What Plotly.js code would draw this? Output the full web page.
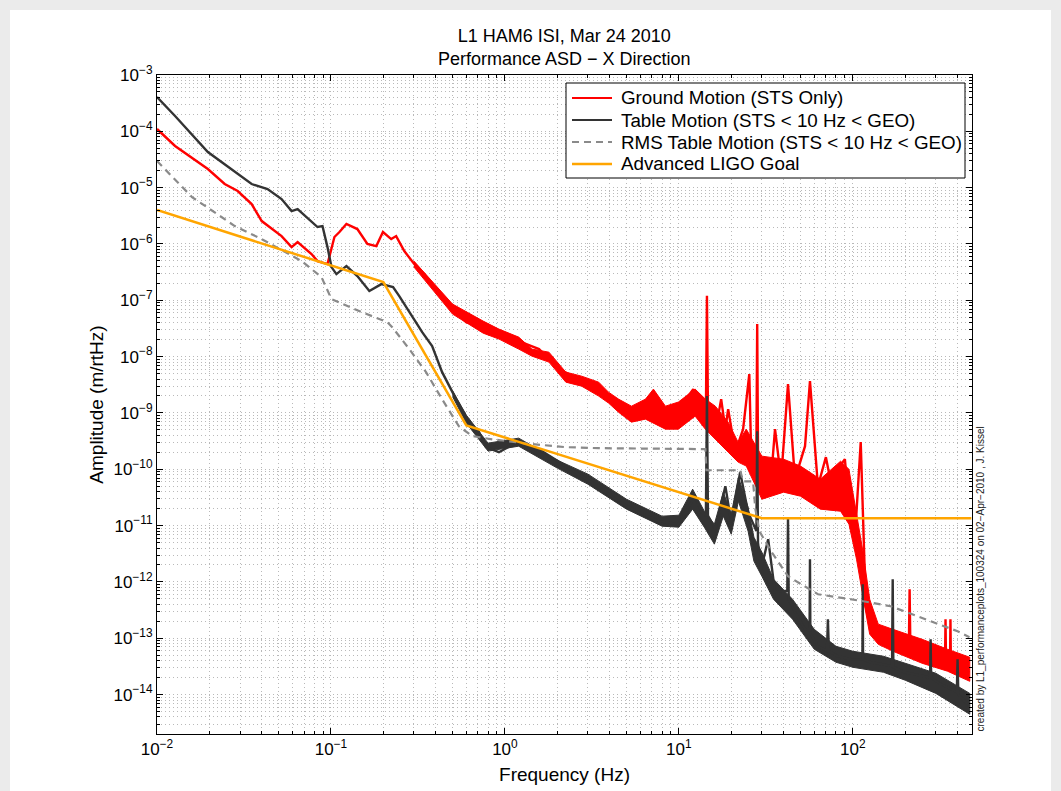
<!DOCTYPE html>
<html><head><meta charset="utf-8">
<script src="https://cdn.plot.ly/plotly-3.0.1.min.js"></script>
<style>
html,body{margin:0;padding:0;background:#ebebeb;width:1061px;height:791px;overflow:hidden}
#sheet{position:absolute;left:10px;top:10px;width:1041px;height:781px;background:#fff}
#chart{position:absolute;left:0;top:0;width:1061px;height:791px}
</style></head><body><div id="sheet"></div><div id="chart"></div>
<script>
// ---------- data (frequency in Hz, amplitude in m/rtHz) ----------
const redFreq = [0.01,0.0127,0.0196,0.0245,0.0291,0.035,0.04,0.052,0.0594,0.0643,0.0773,0.0837,0.0955,0.1047,0.1119,0.1227,0.1418,0.162,0.1823,0.199,0.222,0.237,0.264,0.301,0.3435,0.408,0.49,0.598,0.738,0.924,1.2,1.57,2.04,2.66,3.46,4.5,5.34,6.43,7.14,8.37,9.93,12.1,13.5,14.3,14.5,14.7,16.2,17.5,18.5,19.2,21.1,23.4,25.4,26,27.9,28.2,28.5,29.7,33.4,35.7,38.7,42.4,46.5,53.1,56.7,63,70,78.8,84.2,90,93.6,102.7,111,118.7,126.8,144.7,174,210,212,214,259,307,339,341,343,362,364,366,400,468];
const redAmp = [1.1e-4,5.5e-5,2.14e-5,1.16e-5,8.7e-6,5.1e-6,2.55e-6,1.38e-6,8.8e-7,1.08e-6,6.62e-7,4.97e-7,4.4e-7,1.33e-6,1.63e-6,2.26e-6,1.84e-6,1.0e-6,9.18e-7,1.63e-6,1.22e-6,1.38e-6,7.48e-7,4.4e-7,2.92e-7,1.4e-7,7.57e-8,4.1e-8,3.48e-8,2.84e-8,1.88e-8,1.36e-8,6.0e-9,3.99e-9,2.65e-9,1.32e-9,1.03e-9,1.32e-9,2.34e-9,6.87e-10,1.17e-9,2.65e-9,1.03e-9,1.0e-9,1.2e-7,9e-10,4.56e-10,1.76e-9,5.15e-10,1.17e-9,2.01e-10,5.15e-10,4.89e-9,2.28e-10,2.5e-10,3.78e-8,2.0e-10,1.14e-10,3.92e-11,5.15e-10,6.67e-11,3.25e-9,6.67e-11,2.57e-10,3.67e-9,5.0e-11,1.64e-10,2.6e-11,1.14e-10,1.51e-10,3.92e-11,5.73e-12,3.03e-10,3.7e-13,1.44e-13,1.085e-13,9.6e-14,8e-14,7.4e-13,8e-14,5.64e-14,4.24e-14,4.5e-14,2.18e-13,4.5e-14,4.0e-14,2.18e-13,4.0e-14,3.18e-14,2.49e-14];
const redBandFreq = [0.3,0.5,0.75,0.924,1.2,1.43,1.79,2.24,2.76,3.46,3.94,4.5,5.34,6.43,7.14,8.37,9.93,12.4,14.2,16.2,19.2,21.9,24.4,30,40,50,65,85,95,105,115,125,140,170,250,350,470];
const redBandHi = [4.97e-7,8.56e-8,4.27e-8,3.08e-8,2.22e-8,1.36e-8,1.2e-8,5.3e-9,4.5e-9,3.52e-9,2.34e-9,1.76e-9,1.32e-9,1.76e-9,2.65e-9,1.32e-9,1.56e-9,2.65e-9,1.76e-9,1.32e-9,6.87e-10,3.03e-10,5.15e-10,1.71e-10,1.51e-10,1.14e-10,6.67e-11,1.39e-10,1.0e-10,1.6e-11,3.1e-12,4.93e-13,1.78e-13,1.44e-13,9.6e-14,6.38e-14,4.6e-14];
const redBandLo = [3.89e-7,5.69e-8,2.61e-8,2.05e-8,1.36e-8,1.02e-8,7.99e-9,3.52e-9,2.99e-9,1.99e-9,1.5e-9,1.03e-9,6.87e-10,7.76e-10,6.5e-10,5.15e-10,5.15e-10,8.77e-10,5.15e-10,3.4e-10,2.01e-10,1.34e-10,1.14e-10,2.94e-11,3.92e-11,3.33e-11,1.96e-11,1.8e-11,1.06e-11,2.53e-12,4.93e-13,1.18e-13,7.8e-14,5.88e-14,3.6e-14,2.6e-14,1.72e-14];

const blackFreq = [0.01,0.0127,0.0196,0.0245,0.035,0.0432,0.052,0.0594,0.0643,0.0837,0.0894,0.0955,0.1007,0.1075,0.1227,0.1418,0.1662,0.1948,0.2275,0.247,0.2818,0.3345,0.3816,0.4355,0.524,0.622,0.71,0.778,0.924,1.2,1.63,2.24,3.15,4.5,5.86,7.63,9.93,12.4,13.5,14.3,14.5,14.7,16.2,18.5,20,22.5,25,27.9,28.2,28.5,29.7,32.6,35.7,42.0,42.4,42.8,46.5,53.1,56.4,56.7,57.0,63,71,71.9,72.8,82,97.4,113.5,114,114.5,126.8,168,169.5,171,198.6,278,280,282,307,396,400,404,468];
const blackAmp = [4.07e-4,1.87e-4,4.29e-5,2.63e-5,1.16e-5,9.45e-6,6.27e-6,3.84e-6,4.17e-6,2.0e-6,2.08e-6,8.8e-7,3.89e-7,2.92e-7,4.05e-7,2.69e-7,1.46e-7,1.94e-7,1.72e-7,1.19e-7,6.17e-8,2.72e-8,1.54e-8,5.3e-9,1.76e-9,6.87e-10,4.56e-10,2.47e-10,2.01e-10,3.16e-10,2.1e-10,1.14e-10,5.9e-11,2.71e-11,1.73e-11,1.2e-11,1.06e-11,3.33e-11,1.73e-11,1.5e-11,1.99e-9,1.5e-11,8.63e-12,5.0e-11,1.15e-11,8.88e-11,1.73e-11,8e-12,4.75e-10,5e-12,1.68e-12,5.73e-12,6.56e-13,7e-13,1.41e-11,5e-13,2.9e-13,1.44e-13,1.4e-13,2.53e-12,1.2e-13,7.2e-14,6e-14,2.18e-13,6e-14,4.79e-14,4.24e-14,4.2e-14,9.1e-13,4.2e-14,3.75e-14,3.2e-14,1.12e-12,3.1e-14,2.49e-14,2e-14,9.6e-14,2e-14,1.65e-14,1.1e-14,4.24e-14,1.0e-14,6.2e-15];
const blackBandFreq = [0.5,0.6,0.8,1.2,2,3,5,8,10,12,14,16,18,20,22,25,27,30,35,45,60,80,100,150,200,300,470];
const blackBandHi = [2.49e-9,9.14e-10,2.91e-10,3.57e-10,1.45e-10,8.2e-11,2.94e-11,1.47e-11,1.53e-11,4.43e-11,1.8e-11,1.06e-11,3.92e-11,1.6e-11,7.24e-11,2.12e-11,6.22e-12,3.37e-12,1.12e-12,4.93e-13,1.44e-13,7.2e-14,5.88e-14,4.79e-14,3.6e-14,2.39e-14,1.05e-14];
const blackBandLo = [1.95e-9,6.59e-10,2.1e-10,2.57e-10,1.05e-10,5.43e-11,1.96e-11,9.77e-12,9.37e-12,1.96e-11,9.37e-12,4.68e-12,1.47e-11,7.03e-12,2.71e-11,7.96e-12,2.33e-12,1.26e-12,4.93e-13,2.18e-13,6.38e-14,3.75e-14,3.05e-14,2.49e-14,1.8e-14,1.05e-14,4.47e-15];

const rmsFreq = [0.01,0.0159,0.028,0.04,0.0678,0.0882,0.1007,0.1496,0.211,0.225,0.282,0.352,0.435,0.544,0.647,0.844,1.43,2.24,3.46,14.2,14.4,22.5,23.4,26.7,27.5,29,33.9,42.4,63,117,165,259,400,468];
const rmsAmp = [2.97e-5,6.8e-6,2.08e-6,1.22e-6,4.97e-7,2.58e-7,1.05e-7,6.2e-8,4.1e-8,3.34e-8,1.36e-8,5.3e-9,1.76e-9,5.8e-10,3.9e-10,3.4e-10,2.8e-10,2.47e-10,2.37e-10,2.28e-10,9.6e-11,9.6e-11,6.1e-11,6.1e-11,2e-11,8e-12,3.5e-12,1.26e-12,6.05e-13,4.5e-13,3.7e-13,2.18e-13,1.33e-13,1.04e-13];

const goalFreq = [0.01,0.2,0.6,30,480];
const goalAmp = [4e-6,2.1e-7,6e-10,1.35e-11,1.35e-11];

const seriesNames = ['Ground Motion (STS Only)','Table Motion (STS < 10 Hz < GEO)','RMS Table Motion (STS < 10 Hz < GEO)','Advanced LIGO Goal'];
const xTickVals = [0.01,0.1,1,10,100];
const xTickText = ['10<sup>−2</sup>','10<sup>−1</sup>','10<sup>0</sup>','10<sup>1</sup>','10<sup>2</sup>'];
const yTickVals = [1e-14,1e-13,1e-12,1e-11,1e-10,1e-9,1e-8,1e-7,1e-6,1e-5,1e-4,1e-3];
const yTickText = ['10<sup>−14</sup>','10<sup>−13</sup>','10<sup>−12</sup>','10<sup>−11</sup>','10<sup>−10</sup>','10<sup>−9</sup>','10<sup>−8</sup>','10<sup>−7</sup>','10<sup>−6</sup>','10<sup>−5</sup>','10<sup>−4</sup>','10<sup>−3</sup>'];
const titleLines = ['L1 HAM6 ISI, Mar 24 2010','Performance ASD − X Direction'];
const creditText = 'created by L1_performanceplots_100324 on 02−Apr−2010 , J. Kissel';

// ---------- build ----------
function band(f, hi, lo){ return {x: f.concat(f.slice().reverse()), y: hi.concat(lo.slice().reverse())}; }
const RED='#ff0000', BLK='#333333', GRY='#8a8a8a', ORG='#ffa500';
const COLORS=[RED,BLK,GRY,ORG];
const DASHES=['solid','solid','7px,5px','solid'];
const rb = band(redBandFreq, redBandHi, redBandLo);
const bb = band(blackBandFreq, blackBandHi, blackBandLo);
const FONT = '"Liberation Sans", Arial, Helvetica, sans-serif';

const traces = [
  {x: rb.x, y: rb.y, mode:'lines', fill:'toself', fillcolor:RED, line:{color:RED,width:1}, showlegend:false, hoverinfo:'skip'},
  {x: redFreq, y: redAmp, mode:'lines', name:seriesNames[0], line:{color:RED,width:2.4}},
  {x: bb.x, y: bb.y, mode:'lines', fill:'toself', fillcolor:BLK, line:{color:BLK,width:1}, showlegend:false, hoverinfo:'skip'},
  {x: blackFreq, y: blackAmp, mode:'lines', name:seriesNames[1], line:{color:BLK,width:2.4}},
  {x: rmsFreq, y: rmsAmp, mode:'lines', name:seriesNames[2], line:{color:GRY,width:2.2,dash:DASHES[2]}},
  {x: goalFreq, y: goalAmp, mode:'lines', name:seriesNames[3], line:{color:ORG,width:2.5}}
];

const gridCol = '#b9b9b9';
function axisBase(){
  return {type:'log', showline:true, linecolor:'#000', linewidth:1, mirror:'allticks',
    ticks:'inside', ticklen:6, tickcolor:'#000', tickwidth:1,
    showgrid:true, gridcolor:gridCol, griddash:'1px,3px', gridwidth:1, zeroline:false,
    minor:{dtick:'D1', ticks:'inside', ticklen:3, tickcolor:'#000', showgrid:true, gridcolor:gridCol, griddash:'1px,3px', gridwidth:1},
    tickfont:{family:FONT, size:17, color:'#000'}, tickmode:'array'};
}
const xa = Object.assign(axisBase(), {range:[-2, 2.685], tickvals:xTickVals, ticktext:xTickText,
  title:{text:'Frequency (Hz)', font:{family:FONT,size:19,color:'#000'}, standoff:9}});
const ya = Object.assign(axisBase(), {range:[-14.7, -3], tickvals:yTickVals, ticktext:yTickText,
  title:{text:'Amplitude (m/rtHz)', font:{family:FONT,size:19,color:'#000'}, standoff:4}});

// legend drawn as layout shapes/annotations (MATLAB-style tight spacing)
const PX = p => (p-157)/815, PY = p => 1-(p-75)/659;
const legRows = [98,120,142,164];
const shapes = [{type:'rect', xref:'paper', yref:'paper', x0:PX(566), x1:PX(965), y0:PY(178), y1:PY(83), fillcolor:'#fff', line:{color:'#000',width:1}}];
const annotations = [
  {text:titleLines.join('<br>'), xref:'paper', yref:'paper', x:0.5, y:PY(47), yanchor:'middle', showarrow:false, font:{family:FONT,size:18,color:'#000'}},
  {text:creditText, xref:'paper', yref:'paper', x:1+(980-972)/815, y:0, yanchor:'bottom', xanchor:'center', textangle:-90, showarrow:false, font:{family:FONT,size:10,color:'#222'}}
];
seriesNames.forEach((nm,i)=>{
  shapes.push({type:'line', xref:'paper', yref:'paper', x0:PX(572), x1:PX(612), y0:PY(legRows[i]), y1:PY(legRows[i]),
    line:{color:COLORS[i], width:(i===3?2.5:2.2), dash:DASHES[i]}});
  annotations.push({text:nm, xref:'paper', yref:'paper', x:PX(619), y:PY(legRows[i]), xanchor:'left', yanchor:'middle',
    showarrow:false, font:{family:FONT,size:18.8,color:'#000'}});
});

const layout = {
  width:1061, height:791,
  margin:{l:157, r:89, t:75, b:57},
  paper_bgcolor:'rgba(0,0,0,0)', plot_bgcolor:'#fff',
  font:{family:FONT, color:'#000'},
  xaxis:xa, yaxis:ya,
  showlegend:false,
  shapes:shapes, annotations:annotations
};
Plotly.newPlot('chart', traces, layout, {staticPlot:true, displayModeBar:false});
</script></body></html>
